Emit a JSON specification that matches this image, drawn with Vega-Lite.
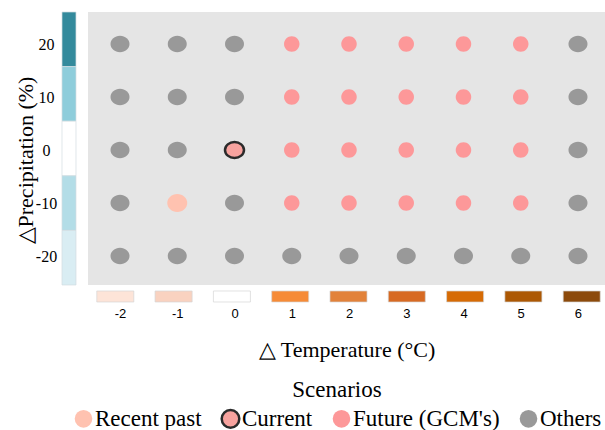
{
  "$schema": "https://vega.github.io/schema/vega-lite/v6.json",
  "width": 517,
  "height": 273,
  "autosize": {"type": "none"},
  "padding": {"left": 88, "top": 12, "right": 0, "bottom": 145},
  "background": "white",
  "config": {
    "font": "Liberation Serif",
    "view": {"fill": "#e5e5e5", "stroke": null},
    "axis": {"grid": false, "domain": false, "ticks": false, "tickSize": 0},
    "legend": {
      "titleFont": "Liberation Serif", "titleFontSize": 23, "titleFontWeight": "normal", "titleColor": "#000000",
      "labelFont": "Liberation Serif", "labelFontSize": 23, "labelColor": "#000000", "labelLimit": 300,
      "symbolSize": 310, "symbolStrokeWidth": 2.5, "symbolType": "circle", "labelOffset": 0, "columnPadding": 14
    }
  },
  "datasets": {
    "points": [
      {"t": -2, "p": 20, "scenario": "Others"},
      {"t": -1, "p": 20, "scenario": "Others"},
      {"t": 0, "p": 20, "scenario": "Others"},
      {"t": 1, "p": 20, "scenario": "Future (GCM's)"},
      {"t": 2, "p": 20, "scenario": "Future (GCM's)"},
      {"t": 3, "p": 20, "scenario": "Future (GCM's)"},
      {"t": 4, "p": 20, "scenario": "Future (GCM's)"},
      {"t": 5, "p": 20, "scenario": "Future (GCM's)"},
      {"t": 6, "p": 20, "scenario": "Others"},
      {"t": -2, "p": 10, "scenario": "Others"},
      {"t": -1, "p": 10, "scenario": "Others"},
      {"t": 0, "p": 10, "scenario": "Others"},
      {"t": 1, "p": 10, "scenario": "Future (GCM's)"},
      {"t": 2, "p": 10, "scenario": "Future (GCM's)"},
      {"t": 3, "p": 10, "scenario": "Future (GCM's)"},
      {"t": 4, "p": 10, "scenario": "Future (GCM's)"},
      {"t": 5, "p": 10, "scenario": "Future (GCM's)"},
      {"t": 6, "p": 10, "scenario": "Others"},
      {"t": -2, "p": 0, "scenario": "Others"},
      {"t": -1, "p": 0, "scenario": "Others"},
      {"t": 0, "p": 0, "scenario": "Current"},
      {"t": 1, "p": 0, "scenario": "Future (GCM's)"},
      {"t": 2, "p": 0, "scenario": "Future (GCM's)"},
      {"t": 3, "p": 0, "scenario": "Future (GCM's)"},
      {"t": 4, "p": 0, "scenario": "Future (GCM's)"},
      {"t": 5, "p": 0, "scenario": "Future (GCM's)"},
      {"t": 6, "p": 0, "scenario": "Others"},
      {"t": -2, "p": -10, "scenario": "Others"},
      {"t": -1, "p": -10, "scenario": "Recent past"},
      {"t": 0, "p": -10, "scenario": "Others"},
      {"t": 1, "p": -10, "scenario": "Future (GCM's)"},
      {"t": 2, "p": -10, "scenario": "Future (GCM's)"},
      {"t": 3, "p": -10, "scenario": "Future (GCM's)"},
      {"t": 4, "p": -10, "scenario": "Future (GCM's)"},
      {"t": 5, "p": -10, "scenario": "Future (GCM's)"},
      {"t": 6, "p": -10, "scenario": "Others"},
      {"t": -2, "p": -20, "scenario": "Others"},
      {"t": -1, "p": -20, "scenario": "Others"},
      {"t": 0, "p": -20, "scenario": "Others"},
      {"t": 1, "p": -20, "scenario": "Others"},
      {"t": 2, "p": -20, "scenario": "Others"},
      {"t": 3, "p": -20, "scenario": "Others"},
      {"t": 4, "p": -20, "scenario": "Others"},
      {"t": 5, "p": -20, "scenario": "Others"},
      {"t": 6, "p": -20, "scenario": "Others"}
    ],
    "precip": [{"p": 20}, {"p": 10}, {"p": 0}, {"p": -10}, {"p": -20}],
    "temp": [{"t": -2}, {"t": -1}, {"t": 0}, {"t": 1}, {"t": 2}, {"t": 3}, {"t": 4}, {"t": 5}, {"t": 6}]
  },
  "layer": [
    {
      "data": {"name": "precip"},
      "mark": {"type": "rect", "stroke": "#d3dde1", "strokeWidth": 0.7},
      "encoding": {
        "x": {"datum": -3.013, "type": "quantitative", "scale": {"domain": [-2.559, 6.472], "zero": false, "nice": false}, "axis": null},
        "x2": {"datum": -2.769},
        "y": {"field": "p", "type": "ordinal", "sort": "descending", "scale": {"paddingInner": 0, "paddingOuter": 0}, "axis": null},
        "fill": {"field": "p", "type": "ordinal", "scale": {"domain": [20, 10, 0, -10, -20], "range": ["#338a9c", "#8ecddb", "#ffffff", "#b3dde7", "#d9edf3"]}, "legend": null}
      }
    },
    {
      "data": {"name": "temp"},
      "mark": {"type": "rect", "stroke": "#d6d6d6", "strokeWidth": 0.7},
      "encoding": {
        "x": {"field": "t", "type": "ordinal", "scale": {"range": [2, 519], "paddingInner": 0.365, "paddingOuter": 0.1165}, "axis": null},
        "y": {"datum": -26.6, "type": "quantitative", "scale": {"domain": [-25.47, 26.04], "zero": false, "nice": false}, "axis": null},
        "y2": {"datum": -28.68},
        "fill": {"field": "t", "type": "ordinal", "scale": {"domain": [-2, -1, 0, 1, 2, 3, 4, 5, 6], "range": ["#fde4d8", "#f9d2c0", "#ffffff", "#f68b37", "#e2823a", "#d76a23", "#d66b05", "#ac5804", "#8c4a0b"]}, "legend": null}
      }
    },
    {
      "data": {"name": "points"},
      "mark": {"type": "point", "filled": true, "opacity": 1, "strokeWidth": 2.5},
      "encoding": {
        "x": {
          "field": "t", "type": "quantitative",
          "scale": {"domain": [-2.559, 6.472], "zero": false, "nice": false},
          "axis": {
            "values": [-2, -1, 0, 1, 2, 3, 4, 5, 6],
            "labelExpr": "toString(datum.value)",
            "labelFont": "Liberation Sans", "labelFontSize": 13, "labelColor": "#000000", "labelPadding": 22,
            "title": "△ Temperature (°C)", "titleFont": "Liberation Serif", "titleFontSize": 22,
            "titleFontWeight": "normal", "titleColor": "#000000", "titlePadding": 19
          }
        },
        "y": {
          "field": "p", "type": "quantitative",
          "scale": {"domain": [-25.47, 26.04], "zero": false, "nice": false},
          "axis": {
            "values": [-20, -10, 0, 10, 20],
            "labelExpr": "toString(datum.value)",
            "labelFont": "Liberation Serif", "labelFontSize": 16, "labelColor": "#000000",
            "labelAlign": "center", "labelPadding": 42,
            "title": "△Precipitation (%)", "titleFont": "Liberation Serif", "titleFontSize": 22,
            "titleFontWeight": "normal", "titleColor": "#000000",
            "titleX": -51, "titleY": 148, "titleAngle": 270, "titleBaseline": "bottom", "titleAlign": "center"
          }
        },
        "fill": {
          "field": "scenario", "type": "nominal",
          "scale": {"domain": ["Recent past", "Current", "Future (GCM's)", "Others"], "range": ["#ffc2b0", "#f8a39f", "#fd9899", "#999999"]},
          "legend": {
            "orient": "none", "legendX": -16, "legendY": 367, "direction": "horizontal",
            "title": "Scenarios", "titleAnchor": "middle", "titlePadding": 5,
            "labelFont": "Liberation Serif", "labelFontSize": 23
          }
        },
        "stroke": {
          "field": "scenario", "type": "nominal",
          "scale": {"domain": ["Recent past", "Current", "Future (GCM's)", "Others"], "range": ["transparent", "#2b2b2b", "transparent", "transparent"]},
          "legend": {
            "orient": "none", "legendX": -16, "legendY": 367, "direction": "horizontal",
            "title": "Scenarios", "titleAnchor": "middle", "titlePadding": 5,
            "labelFont": "Liberation Serif", "labelFontSize": 23
          }
        },
        "shape": {
          "field": "scenario", "type": "nominal",
          "scale": {"domain": ["Recent past", "Current", "Future (GCM's)", "Others"], "range": ["M-1,0A1,0.9,0,1,0,1,0A1,0.9,0,1,0,-1,0Z", "M-1,0A1,0.84,0,1,0,1,0A1,0.84,0,1,0,-1,0Z", "M-1,0A1,1,0,1,0,1,0A1,1,0,1,0,-1,0Z", "M-1,0A1,0.87,0,1,0,1,0A1,0.87,0,1,0,-1,0Z"]},
          "legend": null
        },
        "size": {
          "field": "scenario", "type": "nominal",
          "scale": {"type": "ordinal", "domain": ["Recent past", "Current", "Future (GCM's)", "Others"], "range": [400, 361, 240, 361]},
          "legend": null
        }
      }
    }
  ],
  "resolve": {
    "scale": {"x": "independent", "y": "independent", "fill": "independent", "stroke": "independent"},
    "axis": {"x": "independent", "y": "independent"}
  }
}
